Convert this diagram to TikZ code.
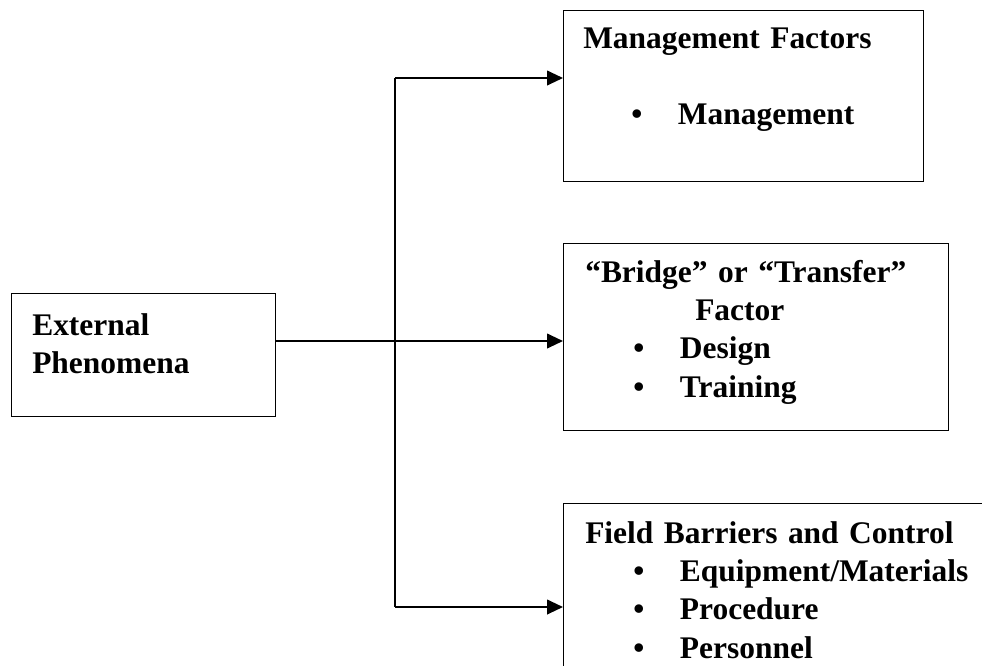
\documentclass[tikz,border=0pt]{standalone}
\usepackage{fontspec}
\setmainfont{Liberation Serif}
\usetikzlibrary{arrows.meta}

\newcommand{\bul}[1]{\hspace*{36pt}\makebox[35pt][l]{\textbullet}#1}

\begin{document}
\begin{tikzpicture}[x=0.75pt, y=-0.75pt,
	box/.style={draw, line width=1pt, inner sep=0pt, anchor=north west},
	txt/.style={anchor=base west, inner sep=0pt, text width=330pt, font=\fontsize{23.6}{28.8}\selectfont\bfseries},
	flow/.style={line width=1.5pt, -{Triangle[length=12pt, width=11pt]}}]

	\useasboundingbox[fill=white] (0,0) rectangle (982,665);
	\clip (0,0) rectangle (982,665);

	%boxes
	\node[box, minimum width=198pt, minimum height=92.25pt] (ext) at (11,293) {};
	\node[box, minimum width=270pt, minimum height=128.25pt] (mgmt) at (563,10) {};
	\node[box, minimum width=288.75pt, minimum height=140.25pt] (bridge) at (563,243) {};
	% field box runs off the page
	\node[box, minimum width=375pt, minimum height=187.5pt] (field) at (563,503) {};


	% Text nodes
	\node[txt] (exttxt) at (32,335) {External\\Phenomena};
	\node[txt] (mgmttxt) at (583,48) {Management Factors\\[28.8pt]\bul{Management}};
	\node[txt] (bridgetxt) at (585,282) {“Bridge” or “Transfer”\\\hspace*{82.5pt}Factor\\\bul{Design}\\\bul{Training}};
	\node[txt] (fieldtxt) at (585,543) {Field Barriers and Control\\\bul{Equipment/Materials}\\\bul{Procedure}\\\bul{Personnel}};

	% Arrows
	\coordinate (jtop) at (395,78);
	\coordinate (jmid) at (395,341);
	\coordinate (jbot) at (395,607);
	\draw[line width=1pt] (jtop) -- (jbot);
	\draw[flow] (ext.east |- jmid) -- (bridge.west |- jmid);
	\draw[flow] (jtop) -- (mgmt.west |- jtop);
	\draw[flow] (jbot) -- (field.west |- jbot);
\end{tikzpicture}
\end{document}
